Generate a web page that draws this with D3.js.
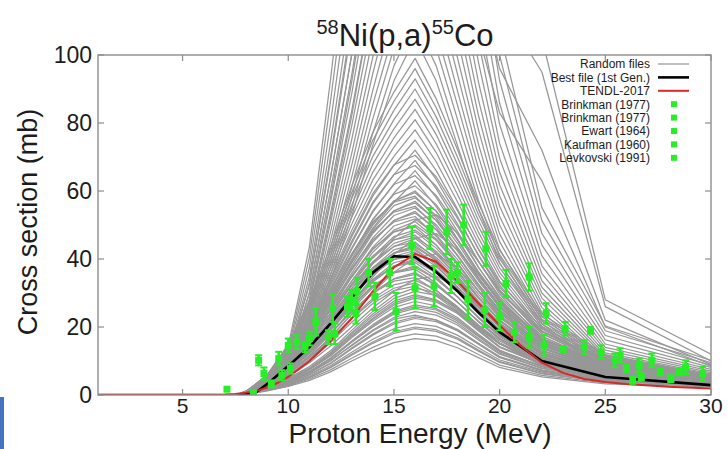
<!DOCTYPE html>
<html>
<head>
<meta charset="utf-8">
<script src="https://cdn.jsdelivr.net/npm/d3@7"></script>
<style>
  html, body { margin: 0; padding: 0; background: #fff; }
  svg { display: block; font-family: "Liberation Sans", Arial, Helvetica, sans-serif; }
</style>
</head>
<body>
<svg id="chart" width="728" height="449"></svg>
<script>
// ---- Energy grid shared by the random TALYS files (MeV) ----
const energyGrid = [1, 7.5, 8, 9, 10, 11, 12, 13, 14, 15, 16, 17, 18, 19, 20, 22, 25, 30];

// ---- Random files (cross section in mb, one row per file, on energyGrid) ----
const randomFiles = [
  [0,0,0.2,1.2,2.5,4.3,6.8,10,13,15.4,16.6,16,13.9,11,8.1,5.3,3.3,2.4],
  [0,0,0.2,1.3,2.7,4.7,7.4,10.8,14,16.7,18,17.3,15.1,11.9,8.8,5.8,3.6,2.6],
  [0,0,0.2,1.4,2.9,5.1,8,11.7,15.2,18.1,19.5,18.7,16.4,12.9,9.6,6.2,3.9,2.8],
  [0,0,0.2,1.4,3,5.2,8.2,12,15.6,18.6,20,19.2,16.8,13.2,9.8,6.4,4,2.9],
  [0,0,0.3,1.5,3.2,5.5,8.6,12.6,16.4,19.5,21,20.2,17.6,13.9,10.3,6.7,4.2,3],
  [0,0,0.3,1.6,3.4,5.9,9.2,13.5,17.6,20.9,22.5,21.6,18.9,14.9,11,7.2,4.5,3.3],
  [0,0,0.3,1.6,3.5,6,9.4,13.8,17.9,21.4,23,22.1,19.3,15.2,11.3,7.4,4.6,3.3],
  [0,0,0.3,1.8,3.8,6.5,10.2,14.5,18.8,22.3,23.5,22,19,15,11.2,7,4.3,3],
  [0,0,0.3,1.7,3.7,6.4,10,14.7,19.1,22.8,24.5,23.5,20.6,16.2,12,7.8,4.9,3.6],
  [0,0,0.3,1.9,4,6.8,10.6,15.5,20,23.8,25.5,24.3,21.2,16.6,12.3,7.9,4.8,3.4],
  [0,0,0.3,1.8,3.9,6.8,10.7,15.6,20.3,24.2,26,25,21.8,17.2,12.7,8.3,5.2,3.8],
  [0,0,0.3,1.9,4,6.9,10.9,15.9,20.7,24.6,26.5,25.4,22.3,17.5,13,8.5,5.3,3.8],
  [0,0,0.4,2,4.3,7.4,11.5,16.8,21.7,25.8,27.5,26.2,22.8,17.9,13.2,8.4,5,3.5],
  [0,0,0.3,2,4.3,7.4,11.7,17.1,22.2,26.5,28.5,27.4,24,18.8,14,9.1,5.7,4.1],
  [0,0,0.3,2,4.4,7.5,11.9,17.4,22.6,27,29,27.8,24.4,19.1,14.2,9.3,5.8,4.2],
  [0,0,0.4,2.2,4.6,7.9,12.3,17.9,23.2,27.6,29.5,28,24.5,19.2,14.2,9,5.5,3.9],
  [0,0,0.4,2.1,4.6,7.9,12.5,18.3,23.8,28.4,30.5,29.3,25.6,20.1,15,9.8,6.1,4.4],
  [0,0,0.4,2.3,4.9,8.4,13,19,24.6,29.3,31.5,30,26,20.5,15.3,9.6,5.9,4.2],
  [0,0,0.3,1.9,5.4,9.9,15.4,21.4,26.9,30.7,32,29.1,24.6,19.5,15,9,4.8,2.6],
  [0,0,0.3,2.6,6.6,11.2,16.5,22.4,27.7,31.4,33,29.7,25.1,19.8,15.2,8.9,5,2.6],
  [0,0,0.3,2,5.7,10.5,16.2,22.6,28.4,32.4,33.8,30.8,26,20.6,15.9,9.5,5.1,2.7],
  [0,0,0.5,3.5,7.9,12.8,18.3,24.5,30,33.5,34.5,30.7,25.5,20,15.2,8.6,4.8,2.6],
  [0,0,0.3,2.1,6,11,17,23.8,29.8,34.1,35.5,32.3,27.3,21.7,16.7,9.9,5.3,2.8],
  [0,0,0.4,2.9,7.2,12.2,18,24.5,30.2,34.2,36,32.4,27.4,21.6,16.6,9.7,5.4,2.9],
  [0,0,0.6,3.7,8.5,13.7,19.6,26.3,32.2,35.9,37,32.9,27.4,21.5,16.3,9.3,5.2,2.8],
  [0,0,0.3,2.3,6.4,11.6,18,25.1,31.5,36,37.5,34.1,28.9,22.9,17.6,10.5,5.6,3],
  [0,0,0.4,3,7.6,12.9,19,25.8,31.9,36.1,38,34.2,28.9,22.8,17.5,10.3,5.7,3],
  [0,0,0.6,3.9,9,14.4,20.7,27.7,33.9,37.8,39,34.7,28.9,22.6,17.2,9.8,5.5,2.9],
  [0,0,0.3,2.4,6.7,12.2,19,26.5,33.2,37.9,39.5,35.9,30.4,24.1,18.6,11.1,5.9,3.2],
  [0,0,0.4,3.2,8,13.6,20,27.2,33.6,38,40,36,30.4,24,18.4,10.8,6,3.2],
  [0,0,0.3,2.4,6.9,12.6,19.4,27.1,34,38.9,40.5,36.9,31.2,24.7,19,11.3,6.1,3.2],
  [0,0,0.6,4.1,9.4,15.2,21.7,29.1,35.7,39.8,41,36.5,30.3,23.8,18,10.3,5.7,3.1],
  [0,0,0.4,3.4,8.4,14.3,21,28.6,35.3,39.9,42,37.8,31.9,25.2,19.3,11.3,6.3,3.4],
  [0,0,0.3,2.6,7.2,13.2,20.4,28.5,35.7,40.8,42.5,38.7,32.7,25.9,20,11.9,6.4,3.4],
  [0,0,0.6,4.3,9.9,15.9,22.8,30.5,37.4,41.7,43,38.3,31.8,24.9,18.9,10.8,6,3.2],
  [0,0,0.3,2.6,7.4,13.5,20.9,29.1,36.5,41.8,43.5,39.6,33.5,26.5,20.4,12.2,6.5,3.5],
  [0,0,0.4,3.5,8.8,15,22,29.9,37,41.8,44,39.6,33.4,26.4,20.2,11.9,6.6,3.5],
  [0,0,0.4,2.7,7.6,13.8,21.4,29.8,37.4,42.7,44.5,40.5,34.3,27.1,20.9,12.5,6.7,3.6],
  [0,0,0.7,4.5,10.4,16.7,23.9,32,39.2,43.7,45,40,33.3,26.1,19.8,11.3,6.3,3.4],
  [0,0,0.5,3.7,9.2,15.6,23,31.3,38.6,43.7,46,41.4,35,27.6,21.2,12.4,6.9,3.7],
  [0,0,0.4,2.8,7.9,14.4,22.3,31.2,39.1,44.6,46.5,42.3,35.8,28.4,21.9,13,7,3.7],
  [0,0,0.7,4.7,10.8,17.4,24.9,33.4,40.9,45.6,47,41.8,34.8,27.3,20.7,11.8,6.6,3.5],
  [0,0,0.5,3.8,9.6,16.3,24,32.6,40.3,45.6,48,43.2,36.5,28.8,22.1,13,7.2,3.8],
  [0,0,0.4,2.9,8.2,15,23.3,32.5,40.7,46.6,48.5,44.1,37.3,29.6,22.8,13.6,7.3,3.9],
  [0,0,0.7,5,11.4,18.3,26.2,35.1,43.1,48,49.5,44.1,36.6,28.7,21.8,12.4,6.9,3.7],
  [0,0,0.4,3,8.5,15.5,24,33.5,42,48,50,45.5,38.5,30.5,23.5,14,7.5,4],
  [0,0,0.5,4.1,10.2,17.3,25.5,34.7,42.8,48.5,51,45.9,38.8,30.6,23.5,13.8,7.7,4.1],
  [0,0,0.4,3.1,8.8,16.1,24.9,34.7,43.5,49.7,51.8,47.1,39.9,31.6,24.3,14.5,7.8,4.1],
  [0,0,0.8,5.3,12.1,19.4,27.8,37.3,45.7,50.9,52.5,46.7,38.9,30.5,23.1,13.1,7.4,3.9],
  [0,0,0.4,3.2,9.1,16.6,25.7,35.8,44.9,51.4,53.5,48.7,41.2,32.6,25.1,15,8,4.3],
  [0,0,0.5,4.3,10.8,18.4,27,36.7,45.4,51.3,54,48.6,41,32.4,24.8,14.6,8.1,4.3],
  [0,0,0.4,3.3,9.4,17.1,26.4,36.9,46.2,52.8,55,50.1,42.4,33.6,25.9,15.4,8.3,4.4],
  [0,0,0.8,5.6,12.8,20.5,29.4,39.4,48.3,53.8,55.5,49.4,41.1,32.2,24.4,13.9,7.8,4.2],
  [0,0,0.5,3.4,9.6,17.5,27.1,37.9,47.5,54.2,56.5,51.4,43.5,34.5,26.6,15.8,8.5,4.5],
  [0,0,0.6,4.6,11.4,19.4,28.5,38.8,47.9,54.2,57,51.3,43.3,34.2,26.2,15.4,8.6,4.6],
  [0,0,0.5,3.5,9.9,18,27.8,38.9,48.7,55.7,58,52.8,44.7,35.4,27.3,16.2,8.7,4.6],
  [0,0,0.9,5.9,13.5,21.6,31,41.5,50.9,56.7,58.5,52.1,43.3,33.9,25.7,14.6,8.2,4.4],
  [0,0,0.5,3.6,10.1,18.4,28.6,39.9,50,57.1,59.5,54.1,45.8,36.3,28,16.7,8.9,4.8],
  [0,0,0.6,4.8,12,20.4,30,40.8,50.4,57,60,54,45.6,36,27.6,16.2,9,4.8],
  [0,0,0.5,3.7,10.5,19.1,29.5,41.2,51.7,59,61.5,56,47.4,37.5,28.9,17.2,9.2,4.9],
  [0,0,0.3,2.1,5.3,9.5,14.4,20,25.6,30.5,34,35,31.5,25.9,20.3,12.3,6.7,3.5],
  [0,0,0.3,2.5,6.2,11.2,17,23.7,30.3,36.1,40.3,41.5,37.4,30.7,24.1,14.5,7.9,4.2],
  [0,0,0.4,2.9,7.1,12.8,19.5,27.1,34.7,41.3,46.1,47.5,42.8,35.2,27.6,16.6,9,4.8],
  [0,0,0.4,3.2,8,14.3,21.7,30.2,38.7,46.1,51.4,53,47.7,39.2,30.7,18.6,10.1,5.3],
  [0,0,0.6,3.8,9.5,17.6,27.7,39.1,49.1,56.7,63,55.4,46,35.9,27.1,15.1,7.6,3.8],
  [0,0,0.5,3.9,11,20,31,43.2,54.2,61.9,64.5,58.7,49.7,39.3,30.3,18.1,9.7,5.2],
  [0,0,0.7,4,9.9,18.5,29,40.9,51.5,59.4,66,58.1,48.2,37.6,28.4,15.8,7.9,4],
  [0,0,0.5,4.1,11.5,20.9,32.4,45.2,56.7,64.8,67.5,61.4,52,41.2,31.7,18.9,10.1,5.4],
  [0,0,0.7,4.1,10.4,19.3,30.4,42.8,53.8,62.1,69,60.7,50.4,39.3,29.7,16.6,8.3,4.1],
  [0,0,0.6,4.2,12,21.9,33.8,47.2,59.2,67.7,70.5,64.2,54.3,43,33.1,19.7,10.6,5.6],
  [0,0,0.7,4.3,10.8,20.2,31.7,44.6,56.2,64.8,72,63.4,52.6,41,31,17.3,8.6,4.3],
  [0,0,0.8,4.5,11.3,21,33,46.5,58.5,67.5,75,66,54.8,42.8,32.3,18,9,4.5],
  [0,0,0.8,4.7,11.7,21.8,34.3,48.4,60.8,70.2,78,68.6,56.9,44.5,33.5,18.7,9.4,4.7],
  [0,0,0.8,4.9,12.2,22.7,35.6,50.2,63.2,72.9,81,71.3,59.1,46.2,34.8,19.4,9.7,4.9],
  [0,0,0.8,5,12.6,23.5,37,52.1,65.5,75.6,84,73.9,61.3,47.9,36.1,20.2,10.1,5],
  [0,0,0.9,5.2,13.1,24.4,38.3,53.9,67.9,78.3,87,76.6,63.5,49.6,37.4,20.9,10.4,5.2],
  [0,0,0.9,5.4,13.5,25.2,39.6,55.8,70.2,81,90,79.2,65.7,51.3,38.7,21.6,10.8,5.4],
  [0,0,0.9,5.6,14,26,40.9,57.7,72.5,83.7,93,81.8,67.9,53,40,22.3,11.2,5.6],
  [0,0,1,5.8,14.4,26.9,42.2,59.5,74.9,86.4,96,84.5,70.1,54.7,41.3,23,11.5,5.8],
  [0,0,1,5.9,14.9,27.7,43.6,61.4,77.2,89.1,99,87.1,72.3,56.4,42.6,23.8,11.9,5.9],
  [0,0,0.4,1.9,5.3,15.8,33.6,52.5,73.5,92.4,105,92.4,73.5,54.6,38.9,20,7.4,3.7],
  [0,0,0.4,2,5.5,16.5,35.2,55,77,96.8,110,96.8,77,57.2,40.7,20.9,7.7,3.9],
  [0,0,0.5,2.1,5.8,17.4,37.1,58,81.2,102,116,102,81.2,60.3,42.9,22,8.1,4.1],
  [0,0,0.5,2.2,6.1,18.3,39,61,85.4,107,122,107,85.4,63.4,45.1,23.2,8.5,4.3],
  [0,0,0.5,2.3,6.4,19.2,41,64,89.6,113,128,113,89.6,66.6,47.4,24.3,9,4.5],
  [0,0,0.5,2.4,6.8,20.3,43.2,67.5,94.5,119,135,119,94.5,70.2,50,25.7,9.5,4.7],
  [0,0,0.6,2.6,7.1,21.3,45.4,71,99.4,125,142,125,99.4,73.8,52.5,27,9.9,5],
  [0,0,0.6,2.7,7.5,22.5,48,75,105,132,150,132,105,78,55.5,28.5,10.5,5.3],
  [0,0,0.6,2.8,7.9,23.7,50.6,79,111,139,158,139,111,82.2,58.5,30,11.1,5.5],
  [0,0,0.7,3,8.4,25,53.4,83.5,117,147,167,147,117,86.8,61.8,31.7,11.7,5.8],
  [0,0,0.7,3.2,8.9,26.6,56.6,88.5,124,156,177,156,124,92,65.5,33.6,12.4,6.2],
  [0,0,0.8,3.4,9.4,28.2,60.2,94,132,165,188,165,132,97.8,69.6,35.7,13.2,6.6],
  [0,0,0.8,3.6,10,30,64,100,140,176,200,176,140,104,74,38,14,7],
  [0,0,0.9,3.9,10.8,32.3,68.8,108,151,189,215,189,151,112,79.6,40.9,15,7.5],
  [0,0,0.9,4.2,11.6,34.8,74.2,116,162,204,232,204,162,121,85.8,44.1,16.2,8.1],
  [0,0,1,4.5,12.5,37.5,80,125,175,220,250,220,175,130,92.5,47.5,17.5,8.8],
  [0,0,1.1,4.9,13.5,40.5,86.4,135,189,238,270,238,189,140,99.9,51.3,18.9,9.5],
  [0,0,1.2,5.2,14.5,43.5,92.8,145,203,255,290,255,203,151,107,55.1,20.3,10.2],
  [0,0,0.8,3.6,10,30,64,100,145,185,220,200,170,140,115,95,26,10],
  [0,0,0.9,4,11,33,70,110,155,195,235,215,185,152,124,105,28,12],
  [0,0,0.7,3.2,9,27,58,92,130,165,195,178,150,122,96,72,22,9],
  [0,0,0.6,2.9,8,24,52,82,117,150,180,162,134,106,83,63,20,8.5]
];

// ---- Best file (1st generation) ----
const bestEnergy = [1, 7.5, 8, 8.5, 9, 10, 11, 12, 13, 14, 15, 16, 17, 18, 19, 20, 22, 25, 30];
const bestFile   = [0, 0, 0.2, 0.9, 3.2, 8.5, 14.1, 21, 28.5, 36, 40.8, 40.6, 36.2, 30.6, 24.3, 18.5, 10, 5.3, 2.9];

// ---- TENDL-2017 evaluation ----
const tendlEnergy = [1, 7, 7.5, 8, 8.5, 9, 9.5, 10, 11, 12, 13, 14, 15, 16, 17, 18, 19, 20, 21, 22, 23, 24, 25, 26, 28, 30];
const tendl2017   = [0, 0.05, 0.3, 0.7, 1.2, 2.2, 3.6, 5.3, 10, 15.8, 22.5, 30.5, 37.5, 41.5, 39.2, 33.5, 27, 20.5, 14.5, 9.5, 6.5, 4.7, 3.8, 3.2, 2.4, 1.9];

// ---- Measurements: [energy MeV, cross section mb, uncertainty mb] ----
const brinkman1977a = [
  [8.6,10.2,1.5],[8.85,6.3,1.8],[9.55,10.7,2],[10.0,14.6,2],[10.4,15.6,2],
  [11.3,21.5,4],[12.1,25.5,4],[12.8,26,3],[13.25,30.5,4],[13.8,36,4],[14.8,36,4]
];
const brinkman1977b = [
  [8.35,0.6,0.5],[9.2,3.3,1],[9.7,5.8,1.5],[10.1,7.8,1.5],[10.8,14.1,1.5],[11.0,16.6,2],
  [11.9,17,2],[12.2,18,3],[13.0,27.9,3],[13.2,24,3],[14.1,29,4],[15.1,24.5,5.5]
];
const ewart1964 = [
  [15.85,44,5.5],[16.7,49,6],[17.5,48,6.5],[18.3,50,6],[19.35,43,5],[20.3,32.8,4],[21.4,34.7,4]
];
const kaufman1960 = [
  [7.1,1.7,0],[16.0,31.5,6],[16.9,32,6],[17.7,35,5],[18.0,36,3],[18.5,28,5.5],
  [19.3,25,5],[20.0,23,4],[20.7,18.5,3],[21.4,17,3],[22.2,24,3]
];
const levkovski1991 = [
  [22.1,14.6,3],[23.0,13.4,1],[23.1,19.5,2],[24.0,14.1,2],[24.3,19,1],[24.8,12.6,2],
  [25.45,10.2,2],[25.7,11.7,2],[26.0,7.8,1],[26.3,4.3,1],[26.6,8.7,2],[26.7,5.3,1],
  [27.2,10.2,2],[27.6,6.8,1],[28.1,4.8,1],[28.5,6.8,1],[28.8,8.2,2],[29.6,6.3,2]
];

const datasets = [
  { name: "Brinkman (1977)", points: brinkman1977a },
  { name: "Brinkman (1977)", points: brinkman1977b },
  { name: "Ewart (1964)", points: ewart1964 },
  { name: "Kaufman (1960)", points: kaufman1960 },
  { name: "Levkovski (1991)", points: levkovski1991 }
];

// ---- Axes ----
const xTicks = [5, 10, 15, 20, 25, 30];
const yTicks = [0, 20, 40, 60, 80, 100];
const xDomain = [1, 30];
const yDomain = [0, 100];

// ---- Layout ----
const svg = d3.select("#chart");
const plot = { left: 98, right: 711, top: 55, bottom: 395 };
const x = d3.scaleLinear().domain(xDomain).range([plot.left, plot.right]);
const y = d3.scaleLinear().domain(yDomain).range([plot.bottom, plot.top]);

const GREY = "#979797", GREEN = "#27ee27", RED = "#d8282a", INK = "#1c1c1c", FRAME = "#8d8d8d";

svg.append("defs").append("clipPath").attr("id", "plotClip")
  .append("rect")
  .attr("x", plot.left).attr("y", plot.top)
  .attr("width", plot.right - plot.left).attr("height", plot.bottom - plot.top);

const area = svg.append("g").attr("clip-path", "url(#plotClip)");

// Random files
const lineOnGrid = d3.line().x((d, i) => x(energyGrid[i])).y(d => y(d));
area.append("g").selectAll("path").data(randomFiles).join("path")
  .attr("d", lineOnGrid)
  .attr("fill", "none").attr("stroke", GREY).attr("stroke-width", 1.25)
  .attr("stroke-linejoin", "round");

// Best file and TENDL
const pairLine = d3.line().x(d => x(d[0])).y(d => y(d[1]));
area.append("path")
  .attr("d", pairLine(d3.zip(bestEnergy, bestFile)))
  .attr("fill", "none").attr("stroke", "#000").attr("stroke-width", 2.6)
  .attr("stroke-linejoin", "round");
area.append("path")
  .attr("d", pairLine(d3.zip(tendlEnergy, tendl2017)))
  .attr("fill", "none").attr("stroke", RED).attr("stroke-width", 2)
  .attr("stroke-linejoin", "round");

// Measurements with error bars
const expG = area.append("g");
datasets.forEach(ds => {
  const g = expG.append("g").attr("class", "dataset");
  const pts = g.selectAll("g").data(ds.points).join("g");
  pts.filter(d => d[2] > 0).append("line")
    .attr("x1", d => x(d[0])).attr("x2", d => x(d[0]))
    .attr("y1", d => y(d[1] - d[2])).attr("y2", d => y(d[1] + d[2]))
    .attr("stroke", GREEN).attr("stroke-width", 2.6);
  [-1, 1].forEach(s => {
    pts.filter(d => d[2] > 0).append("line")
      .attr("x1", d => x(d[0]) - 3.5).attr("x2", d => x(d[0]) + 3.5)
      .attr("y1", d => y(d[1] + s * d[2])).attr("y2", d => y(d[1] + s * d[2]))
      .attr("stroke", GREEN).attr("stroke-width", 2);
  });
  pts.append("rect")
    .attr("x", d => x(d[0]) - 3.5).attr("y", d => y(d[1]) - 3.5)
    .attr("width", 7).attr("height", 7).attr("fill", GREEN);
});

// Frame and mirrored inward ticks
svg.append("rect")
  .attr("x", plot.left).attr("y", plot.top)
  .attr("width", plot.right - plot.left).attr("height", plot.bottom - plot.top)
  .attr("fill", "none").attr("stroke", FRAME).attr("stroke-width", 1.4);

const tickLen = 6;
const ticks = svg.append("g").attr("stroke", FRAME).attr("stroke-width", 1.2);
xTicks.forEach(t => {
  ticks.append("line").attr("x1", x(t)).attr("x2", x(t)).attr("y1", plot.bottom).attr("y2", plot.bottom - tickLen);
  ticks.append("line").attr("x1", x(t)).attr("x2", x(t)).attr("y1", plot.top).attr("y2", plot.top + tickLen);
});
yTicks.forEach(t => {
  ticks.append("line").attr("x1", plot.left).attr("x2", plot.left + tickLen).attr("y1", y(t)).attr("y2", y(t));
  ticks.append("line").attr("x1", plot.right).attr("x2", plot.right - tickLen).attr("y1", y(t)).attr("y2", y(t));
});

// Tick labels
svg.append("g").selectAll("text").data(xTicks).join("text")
  .attr("x", d => x(d)).attr("y", 413)
  .attr("text-anchor", "middle").attr("font-size", 21).attr("fill", INK)
  .text(d => d);
svg.append("g").selectAll("text").data(yTicks).join("text")
  .attr("x", 92).attr("y", d => y(d)).attr("dy", "0.36em")
  .attr("text-anchor", "end").attr("font-size", 23).attr("fill", INK)
  .text(d => d);

// Axis titles
svg.append("text")
  .attr("x", 420).attr("y", 443)
  .attr("text-anchor", "middle").attr("font-size", 28).attr("fill", INK)
  .text("Proton Energy (MeV)");
svg.append("text")
  .attr("transform", "translate(37,222) rotate(-90)")
  .attr("text-anchor", "middle").attr("font-size", 27).attr("fill", INK)
  .text("Cross section (mb)");

// Plot title with mass-number superscripts
const title = svg.append("text")
  .attr("x", 405).attr("y", 46)
  .attr("text-anchor", "middle").attr("fill", INK).attr("font-size", 31);
title.append("tspan").attr("font-size", 20).attr("dy", -12).text("58");
title.append("tspan").attr("dy", 12).text("Ni(p,a)");
title.append("tspan").attr("font-size", 20).attr("dy", -12).text("55");
title.append("tspan").attr("dy", 12).text("Co");

// Legend
const legendItems = [
  { label: "Random files", kind: "line", color: "#a8a8a8", width: 1.5 },
  { label: "Best file (1st Gen.)", kind: "line", color: "#000", width: 2.6 },
  { label: "TENDL-2017", kind: "line", color: RED, width: 2 }
].concat(datasets.map(ds => ({ label: ds.name, kind: "point" })));

const legend = svg.append("g").attr("font-size", 12).attr("fill", INK);
legendItems.forEach((item, i) => {
  const cy = 64 + i * 13.4;
  legend.append("text")
    .attr("x", 650).attr("y", cy).attr("dy", "0.36em")
    .attr("text-anchor", "end").text(item.label);
  if (item.kind === "line") {
    legend.append("line")
      .attr("x1", 658).attr("x2", 689).attr("y1", cy).attr("y2", cy)
      .attr("stroke", item.color).attr("stroke-width", item.width);
  } else {
    legend.append("rect")
      .attr("x", 671).attr("y", cy - 3).attr("width", 6).attr("height", 6)
      .attr("fill", GREEN);
  }
});

// Slide accent bar at the lower-left edge
svg.append("rect")
  .attr("x", 0).attr("y", 397).attr("width", 4).attr("height", 52)
  .attr("fill", "#4472c4");
</script>
</body>
</html>
